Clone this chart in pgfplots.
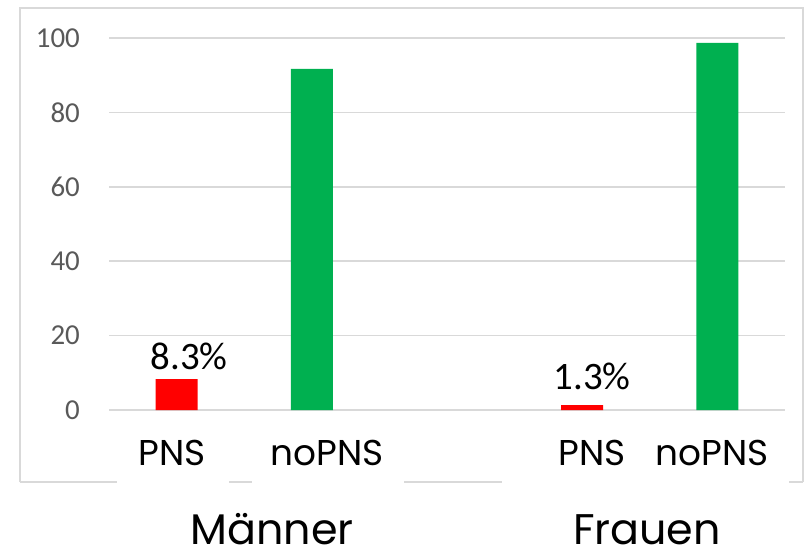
\documentclass[border=0pt]{standalone}
\usepackage{fontspec}
\usepackage{pgfplots}
\pgfplotsset{compat=1.18}
\newfontfamily\carlito{Carlito}
\newfontfamily\pop{Poppins}
\definecolor{gridgray}{HTML}{D9D9D9}
\definecolor{ticktext}{HTML}{595959}
\definecolor{xlred}{HTML}{FF0000}
\definecolor{xlgreen}{HTML}{00B050}
\begin{document}
\begin{tikzpicture}[x=1bp,y=1bp]
\useasboundingbox (0,-558) rectangle (808,0);
% outer chart border
\draw[gridgray, line width=1.5bp] (20,-482) -- (20,-8) -- (803,-8) -- (803,-482);
\draw[gridgray, line width=1.5bp] (20,-482) -- (117,-482);
\draw[gridgray, line width=1.5bp] (229,-482) -- (252,-482);
\draw[gridgray, line width=1.5bp] (404,-482) -- (502,-482);
\draw[gridgray, line width=1.5bp] (789,-482) -- (803,-482);
\begin{axis}[
  at={(109bp,-410bp)}, anchor=south west,
  scale only axis, width=676bp, height=372bp,
  xmin=-0.5, xmax=4.5, ymin=0, ymax=100,
  axis line style={draw=none},
  ytick={0,20,40,60,80,100},
  xtick=\empty,
  ymajorgrids, grid style={gridgray, line width=1.6bp},
  major tick length=0pt,
  tick style={draw=none},
  /pgf/number format/assume math mode=true,
  yticklabel style={font=\carlito\fontsize{29}{30}\selectfont, text=ticktext, anchor=east, inner sep=0pt, xshift=-29bp},
  ybar, bar width=42bp,
  clip=false,
]
\addplot[fill=xlred, draw=none, bar shift=0pt] coordinates {(0,8.3) (3,1.3)};
\addplot[fill=xlgreen, draw=none, bar shift=0pt] coordinates {(1,91.7) (4,98.7)};
\end{axis}
% data labels
\node[font=\carlito\fontsize{39}{40}\selectfont, anchor=base, inner sep=0pt] at (189,-369) {8.3\%};
\node[font=\carlito\fontsize{39}{40}\selectfont, anchor=base, inner sep=0pt] at (592,-389) {1.3\%};
% category labels
\node[font=\pop\fontsize{36}{37}\selectfont, anchor=base, inner sep=0pt] at (172,-465) {PNS};
\node[font=\pop\fontsize{36}{37}\selectfont, anchor=base, inner sep=0pt] at (327,-465) {noPNS};
\node[font=\pop\fontsize{36}{37}\selectfont, anchor=base, inner sep=0pt] at (592,-465) {PNS};
\node[font=\pop\fontsize{36}{37}\selectfont, anchor=base, inner sep=0pt] at (712,-465) {noPNS};
% group labels
\node[font=\pop\fontsize{43}{44}\selectfont, anchor=base, inner sep=0pt] at (272,-544) {Männer};
\node[font=\pop\fontsize{43}{44}\selectfont, anchor=base, inner sep=0pt] at (647,-544) {Frauen};
\end{tikzpicture}
\end{document}
